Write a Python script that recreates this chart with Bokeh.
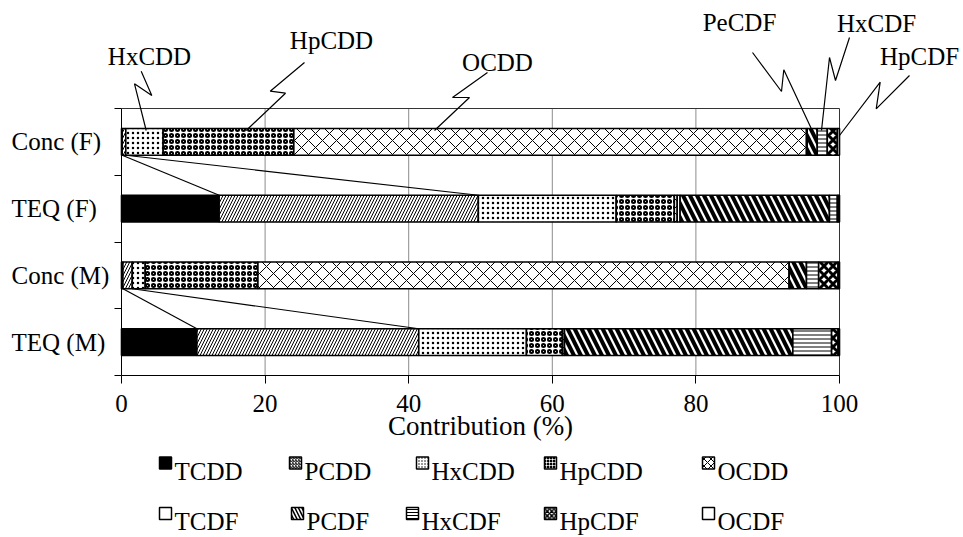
import numpy as np
from bokeh.plotting import figure
from bokeh.models import Range1d, FixedTicker
from bokeh.embed import file_html
from bokeh.resources import INLINE
from bokeh.core.properties import value

# ---------------- data ----------------
categories = ["TEQ (M)", "Conc (M)", "TEQ (F)", "Conc (F)"]          # bottom -> top
congeners = ["TCDD", "PCDD", "HxCDD", "HpCDD", "OCDD",
             "TCDF", "PCDF", "HxCDF", "HpCDF", "OCDF"]
conc_f = [0.1, 0.5, 5.2, 18.2, 71.4, 0.1, 1.4, 1.4, 1.4, 0.3]
teq_f = [13.6, 36.1, 19.2, 8.1, 0.4, 0.4, 20.8, 1.1, 0.2, 0.1]
conc_m = [0.2, 1.3, 1.8, 15.7, 74.0, 0.0, 2.4, 1.7, 2.7, 0.2]
teq_m = [10.5, 30.9, 15.0, 5.0, 0.3, 0.0, 31.8, 5.4, 0.9, 0.2]
x_ticks = [0, 20, 40, 60, 80, 100]
x_title = "Contribution (%)"

rows = {"Conc (F)": conc_f, "TEQ (F)": teq_f, "Conc (M)": conc_m, "TEQ (M)": teq_m}

# ---------------- layout / styles ----------------
FONT = "Liberation Serif"
W, H = 960, 536
FIG_LEFT, FIG_TOP = 1, 0             # page position of the figure
X0_PX, PX_PER_X = 122.0, 7.18        # page pixel of x=0, pixels per percent
Y0_PX, PX_PER_Y = 375.0, 66.75       # page pixel of y=0, pixels per category


def px2x(px):
    return (px - X0_PX) / PX_PER_X


def py2y(py):
    return (Y0_PX - py) / PX_PER_Y


styles = {
    "TCDD":  dict(fill_color="black", hatch_pattern=None),
    "PCDD":  dict(fill_color="white", hatch_pattern="/", hatch_scale=6, hatch_weight=1),
    "HxCDD": dict(fill_color="white", hatch_pattern=".", hatch_scale=5, hatch_weight=1),
    "HpCDD": dict(fill_color="white", hatch_pattern="o", hatch_scale=6, hatch_weight=2),
    "OCDD":  dict(fill_color="white", hatch_pattern="x", hatch_scale=14, hatch_weight=1),
    "TCDF":  dict(fill_color="white", hatch_pattern=None),
    "PCDF":  dict(fill_color="white", hatch_pattern="\\", hatch_scale=14, hatch_weight=4),
    "HxCDF": dict(fill_color="white", hatch_pattern="-", hatch_scale=4, hatch_weight=1),
    "HpCDF": dict(fill_color="white", hatch_pattern="x", hatch_scale=9, hatch_weight=3),
    "OCDF":  dict(fill_color="white", hatch_pattern=None),
}
TXT = dict(text_font=value(FONT), text_color="black")

BAR_H = 0.4
ypos = {c: i + 0.5 for i, c in enumerate(categories)}
ncat = len(categories)

p = figure(width=W, height=H,
           x_range=Range1d(px2x(FIG_LEFT), px2x(FIG_LEFT + W)),
           y_range=Range1d(py2y(FIG_TOP + H), py2y(FIG_TOP)),
           output_backend="svg", toolbar_location=None,
           min_border_left=0, min_border_right=0, min_border_top=0, min_border_bottom=0)
p.grid.visible = False
p.outline_line_color = None
p.background_fill_color = "white"

# grid lines (only inside the category band) and frame
gx = [t for t in x_ticks if 0 < t < 100]
p.segment(x0=gx, y0=[0] * len(gx), x1=gx, y1=[ncat] * len(gx),
          line_color="#8c8c8c", line_width=1)
p.segment(x0=[0, x_ticks[-1]], y0=[ncat, 0], x1=[x_ticks[-1], x_ticks[-1]], y1=[ncat, ncat],
          line_color="#333333", line_width=1)

# stacked bars
for j, name in enumerate(congeners):
    lefts, rights, ys = [], [], []
    for c in categories:
        cum = np.concatenate([[0.0], np.cumsum(rows[c])])
        lefts.append(cum[j]); rights.append(cum[j + 1]); ys.append(ypos[c])
    st = dict(styles[name])
    p.hbar(y=ys, left=lefts, right=rights, height=BAR_H,
           line_color="black", line_width=1.6, hatch_color="black", **st)

# series lines (TCDD and PCDD) between Conc and TEQ bars
for conc, teq in [("Conc (F)", "TEQ (F)"), ("Conc (M)", "TEQ (M)")]:
    cc = np.cumsum(rows[conc]); tc = np.cumsum(rows[teq])
    for j in (0, 1):
        p.segment(x0=[cc[j]], y0=[ypos[conc] - BAR_H / 2], x1=[tc[j]], y1=[ypos[teq] + BAR_H / 2],
                  line_color="black", line_width=1.2)

# callouts above the top bar: label centre (page px) and zigzag leader (page px)
callouts = [
    ("HxCDD", (150, 56), [(141.7, 70.7), (152.3, 95), (135, 83.3), (146.7, 130)]),
    ("HpCDD", (332, 40), [(305, 62), (270.7, 90.7), (286, 92.7), (246.7, 130)]),
    ("OCDD", (498, 62), [(488, 72), (453, 97), (470, 97), (435, 130)]),
    ("PeCDF", (740, 22), [(753, 52), (782, 91), (784.3, 69.3), (812.7, 130)]),
    ("HxCDF", (877, 23), [(850, 37), (836, 80), (830, 57), (822, 130)]),
    ("HpCDF", (920, 56), [(910, 75), (876.7, 108.3), (880.7, 81.7), (840, 135)]),
]
for text, (lx, ly), pts in callouts:
    p.line([px2x(a) for a, b in pts], [py2y(b) for a, b in pts], line_color="black", line_width=1.2)
    p.text(x=[px2x(lx)], y=[py2y(ly)], text=[text], text_align="center", text_baseline="middle",
           text_font_size="25px", **TXT)

# x tick labels and axis title (centred under 0..100)
p.text(x=x_ticks, y=[py2y(403)] * len(x_ticks), text=[str(t) for t in x_ticks],
       text_align="center", text_baseline="middle", text_font_size="25px", **TXT)
p.text(x=[(x_ticks[0] + x_ticks[-1]) / 2], y=[py2y(425)], text=[x_title],
       text_align="center", text_baseline="middle", text_font_size="27px", **TXT)

# category labels (left aligned, as in the original)
p.text(x=[px2x(12)] * ncat, y=list(ypos.values()), text=list(ypos.keys()),
       text_align="left", text_baseline="middle", text_font_size="25px", **TXT)

# axes (lines and ticks)
xa = p.xaxis[0]
xa.fixed_location = 0
xa.ticker = FixedTicker(ticks=x_ticks)
xa.major_label_overrides = {t: "" for t in x_ticks}
xa.bounds = (0, 100)
xa.major_tick_in = 0
xa.major_tick_out = 8
xa.minor_tick_out = 0
xa.minor_tick_in = 0
xa.axis_line_color = "black"
xa.major_tick_line_color = "black"

ya = p.yaxis[0]
ya.fixed_location = 0
ya.ticker = FixedTicker(ticks=[v for v in ypos.values()], minor_ticks=list(range(ncat + 1)))
ya.bounds = (0, ncat)
ya.major_label_overrides = {v: "" for v in ypos.values()}
ya.major_tick_in = 0
ya.major_tick_out = 0
ya.minor_tick_in = 0
ya.minor_tick_out = 7
ya.minor_tick_line_color = "black"
ya.axis_line_color = "black"

# ---------------- legend (two rows below the axis) ----------------
legend_cols = [[160, 290, 417, 545, 703], [160, 292, 407, 545, 703]]
legend_swatch_py = [462.5, 513]
legend_text_py = [470.5, 521]
SW = 12
for r in range(2):
    for k in range(5):
        name = congeners[r * 5 + k]
        x0 = legend_cols[r][k]
        st = dict(styles[name])
        if st.get("hatch_pattern"):
            st["hatch_scale"] = max(3, st["hatch_scale"] * 0.5)
            st["hatch_weight"] = min(st["hatch_weight"], 1.5)
        p.rect(x=[px2x(x0 + SW / 2)], y=[py2y(legend_swatch_py[r])], width=SW, height=SW,
               width_units="screen", height_units="screen",
               line_color="black", line_width=1.5, hatch_color="black", **st)
        p.text(x=[px2x(x0 + SW + 3)], y=[py2y(legend_text_py[r])], text=[name],
               text_baseline="middle", text_align="left", text_font_size="25px", **TXT)

open("out.html", "w").write(file_html(p, INLINE))
